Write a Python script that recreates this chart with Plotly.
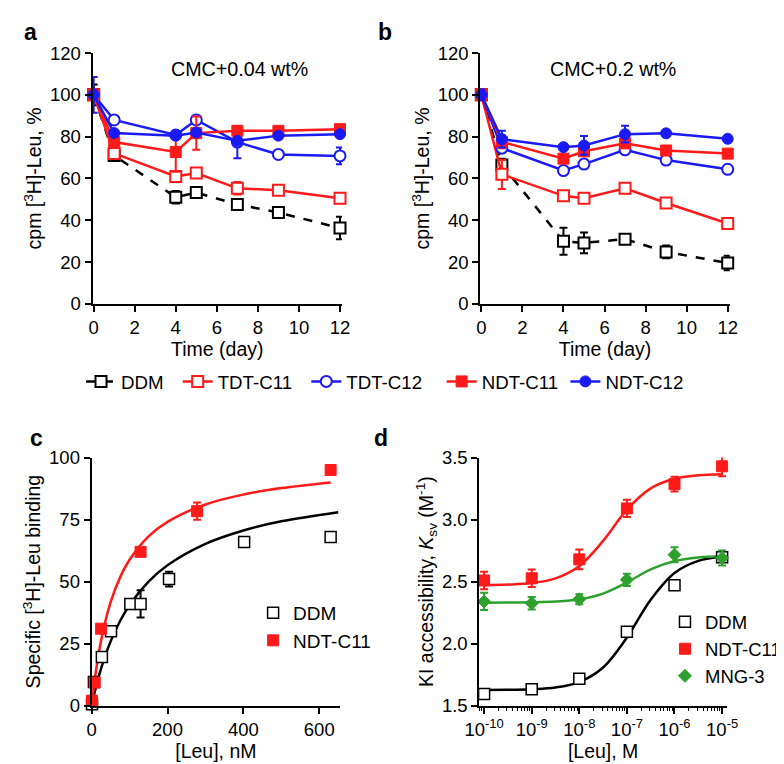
import plotly.graph_objects as go

# ---------------- data ----------------
days = [0, 1, 4, 5, 7, 9, 12]

# Panel a: CMC + 0.04 wt%
a_ddm = [100, 71, 51, 53.3, 47.6, 43.7, 36.3]
a_ddm_err = [5, 2, 3, 1.5, 1.5, 2.5, 5.4]
a_tdt11 = [100, 72, 61, 62.6, 55.3, 54.4, 50.5]
a_tdt11_err = [2, 2, 2, 1.5, 3, 1.5, 1.5]
a_tdt12 = [100, 88, 80.8, 88, 77.4, 71.5, 70.8]
a_tdt12_err = [8.5, 1.5, 1.5, 1.5, 7.7, 1, 4]
a_ndt11 = [100, 77.4, 72.7, 81.7, 82.8, 82.8, 83.6]
a_ndt11_err = [2, 2, 9.5, 8, 2, 1.5, 1.5]
a_ndt12 = [100, 81.7, 80.5, 82, 78, 80.5, 81.2]
a_ndt12_err = [2, 1, 1, 1, 1, 1, 1]

# Panel b: CMC + 0.2 wt%
b_ddm = [100, 66.5, 30, 29.2, 31, 24.9, 19.6]
b_ddm_err = [2, 3, 6.5, 5, 1.5, 3, 3.5]
b_tdt11 = [100, 62, 51.7, 50.6, 55.3, 48.3, 38.5]
b_tdt11_err = [2, 7, 1.5, 1.5, 1.5, 1.5, 1.5]
b_tdt12 = [100, 74.5, 63.8, 66.9, 73.7, 68.8, 64.4]
b_tdt12_err = [2, 1.5, 1, 1, 1, 1, 1]
b_ndt11 = [100, 77.5, 69.5, 73, 76.8, 73.4, 71.9]
b_ndt11_err = [2, 3, 1.5, 1.5, 1.5, 1.5, 1.5]
b_ndt12 = [100, 78.8, 75, 75.8, 81.2, 81.6, 79]
b_ndt12_err = [2.5, 4, 1, 4.5, 4, 1, 1]

# Panel c: saturation binding
c_ddm_x = [1, 6, 27, 51, 102, 129, 204, 402, 630]
c_ddm_y = [0.5, 9.5, 19.6, 30, 41, 41, 51, 66, 68]
c_ddm_err = [0, 0, 0, 0, 0, 5.5, 3, 0, 0]
c_ndt_x = [1, 8, 25, 129, 278, 630]
c_ndt_y = [2, 9.3, 31, 62, 78.4, 95]
c_ndt_err = [0, 0, 0, 0, 3.5, 0]
# fitted curves
c_fit_ddm_x = [2, 10, 25, 50, 75, 100, 150, 200, 300, 400, 500, 650]
c_fit_ddm_y = [1.4, 6.6, 15, 25.9, 34.1, 40.6, 50, 56.6, 65.2, 70.6, 74.3, 78]
c_fit_ndt_x = [2, 10, 25, 50, 75, 100, 150, 200, 300, 400, 500, 630]
c_fit_ndt_y = [2.8, 12.5, 26.3, 41.7, 51.7, 58.8, 68.2, 74.1, 81.1, 85.1, 87.7, 90]

# Panel d: KI accessibility
d_x = [1e-10, 1e-9, 1e-8, 1e-7, 1e-6, 1e-5]
d_ddm = [1.594, 1.631, 1.717, 2.096, 2.47, 2.697]
d_ddm_err = [0, 0, 0, 0, 0, 0.03]
d_ndt = [2.509, 2.527, 2.679, 3.09, 3.286, 3.43]
d_ndt_err = [0.07, 0.07, 0.08, 0.07, 0.06, 0.08]
d_mng = [2.34, 2.325, 2.357, 2.514, 2.717, 2.69]
d_mng_err = [0.07, 0.05, 0.04, 0.05, 0.06, 0.06]
d_fit_x = [1e-10, 10**-9.5, 1e-9, 10**-8.5, 1e-8, 10**-7.5, 1e-7, 10**-6.5, 1e-6, 10**-5.5, 1e-5]
d_fit_ddm = [1.626, 1.627, 1.632, 1.646, 1.690, 1.807, 2.049, 2.354, 2.570, 2.667, 2.702]
d_fit_ndt = [2.472, 2.476, 2.488, 2.526, 2.626, 2.828, 3.080, 3.252, 3.329, 3.357, 3.366]
d_fit_mng = [2.330, 2.331, 2.333, 2.339, 2.357, 2.403, 2.493, 2.598, 2.666, 2.695, 2.705]

d_tickvals = [1e-10, 1e-9, 1e-8, 1e-7, 1e-6, 1e-5]
d_ticktext = ["10<sup>-10</sup>", "10<sup>-9</sup>", "10<sup>-8</sup>",
              "10<sup>-7</sup>", "10<sup>-6</sup>", "10<sup>-5</sup>"]

# ---------------- style ----------------
RED = "#FF1A1A"
BLUE = "#1A1AF5"
GREEN = "#2EA02E"
BLACK = "#000000"
FONT = "Liberation Sans, Arial, sans-serif"

W, H = 784, 764


def fx(p):
    return p / W


def fy(p):
    return 1 - p / H


fig = go.Figure()


def err(arr, color):
    return dict(type="data", array=arr, visible=True, color=color, thickness=2, width=4)


def series(x, y, e, name, color, symbol, fill, xa, ya, dash="solid", legend=None):
    fig.add_trace(go.Scatter(
        x=x, y=y, name=name, mode="lines+markers",
        line=dict(color=color, width=2.5, dash=dash),
        marker=dict(symbol=symbol, size=11, color=fill,
                    line=dict(color=color, width=2 if fill == "white" else 1)),
        error_y=err(e, color), xaxis=xa, yaxis=ya, cliponaxis=False,
        showlegend=legend is not None, legend=legend or "legend"))


for xa, ya, d11, e11, d12, e12, n11, ne11, n12, ne12, dd, de, sl in [
    ("x", "y", a_tdt11, a_tdt11_err, a_tdt12, a_tdt12_err, a_ndt11, a_ndt11_err, a_ndt12, a_ndt12_err, a_ddm, a_ddm_err, True),
    ("x2", "y2", b_tdt11, b_tdt11_err, b_tdt12, b_tdt12_err, b_ndt11, b_ndt11_err, b_ndt12, b_ndt12_err, b_ddm, b_ddm_err, False),
]:
    series(days, dd, de, "DDM", BLACK, "square", "white", xa, ya, dash="dash", legend="legend" if sl else None)
    series(days, d11, e11, "TDT-C11", RED, "square", "white", xa, ya, legend="legend4" if sl else None)
    series(days, d12, e12, "TDT-C12", BLUE, "circle", "white", xa, ya, legend="legend5" if sl else None)
    series(days, n11, ne11, "NDT-C11", RED, "square", RED, xa, ya, legend="legend6" if sl else None)
    series(days, n12, ne12, "NDT-C12", BLUE, "circle", BLUE, xa, ya, legend="legend7" if sl else None)

# Panel c
fig.add_trace(go.Scatter(x=c_fit_ddm_x, y=c_fit_ddm_y, mode="lines", line=dict(color=BLACK, width=2.5, shape="spline"),
                         xaxis="x3", yaxis="y3", showlegend=False, hoverinfo="skip"))
fig.add_trace(go.Scatter(x=c_fit_ndt_x, y=c_fit_ndt_y, mode="lines", line=dict(color=RED, width=2.5, shape="spline"),
                         xaxis="x3", yaxis="y3", showlegend=False, hoverinfo="skip"))
fig.add_trace(go.Scatter(x=c_ddm_x, y=c_ddm_y, name="DDM", mode="markers",
                         marker=dict(symbol="square", size=11, color="white", line=dict(color=BLACK, width=1.5)),
                         error_y=err(c_ddm_err, BLACK), xaxis="x3", yaxis="y3", cliponaxis=False, legend="legend2"))
fig.add_trace(go.Scatter(x=c_ndt_x, y=c_ndt_y, name="NDT-C11", mode="markers",
                         marker=dict(symbol="square", size=11, color=RED, line=dict(color=RED, width=1)),
                         error_y=err(c_ndt_err, RED), xaxis="x3", yaxis="y3", cliponaxis=False, legend="legend2"))

# Panel d
for yy, col in [(d_fit_ddm, BLACK), (d_fit_ndt, RED), (d_fit_mng, GREEN)]:
    fig.add_trace(go.Scatter(x=d_fit_x, y=yy, mode="lines", line=dict(color=col, width=2.5, shape="spline"),
                             xaxis="x4", yaxis="y4", showlegend=False, hoverinfo="skip"))
fig.add_trace(go.Scatter(x=d_x, y=d_ddm, name="DDM", mode="markers",
                         marker=dict(symbol="square", size=11, color="white", line=dict(color=BLACK, width=1.5)),
                         error_y=err(d_ddm_err, BLACK), xaxis="x4", yaxis="y4", cliponaxis=False, legend="legend3"))
fig.add_trace(go.Scatter(x=d_x, y=d_ndt, name="NDT-C11", mode="markers",
                         marker=dict(symbol="square", size=11, color=RED, line=dict(color=RED, width=1)),
                         error_y=err(d_ndt_err, RED), xaxis="x4", yaxis="y4", cliponaxis=False, legend="legend3"))
fig.add_trace(go.Scatter(x=d_x, y=d_mng, name="MNG-3", mode="markers",
                         marker=dict(symbol="diamond", size=10, color=GREEN, line=dict(color=GREEN, width=1)),
                         error_y=err(d_mng_err, GREEN), xaxis="x4", yaxis="y4", cliponaxis=False, legend="legend3"))

tickfont = dict(family=FONT, size=18.5, color="black")
titlefont = dict(family=FONT, size=19.5, color="black")
axis_common = dict(showline=True, linecolor="black", linewidth=2, ticks="outside", ticklen=6, tickwidth=2,
                   tickcolor="black", showgrid=False, zeroline=False, tickfont=tickfont, mirror=False)


def top_legend(cx):
    return dict(orientation="h", x=fx(cx - 20), y=fy(373), xanchor="left", yanchor="middle",
                font=dict(family=FONT, size=18.7, color="black"), itemwidth=30, bgcolor="rgba(0,0,0,0)",
                borderwidth=0)


fig.update_layout(
    width=W, height=H, margin=dict(l=0, r=0, t=0, b=0),
    plot_bgcolor="white", paper_bgcolor="white",
    font=dict(family=FONT, color="black"),
    xaxis=dict(domain=[fx(72), fx(330)], range=[-0.05, 12.1], dtick=2, anchor="y",
               title=dict(text="Time (day)", font=titlefont, standoff=2), **axis_common),
    yaxis=dict(domain=[fy(293), fy(35)], range=[0, 120], dtick=20, anchor="x",
               title=dict(text="cpm [<sup>3</sup>H]-Leu, %", font=titlefont, standoff=3), **axis_common),
    xaxis2=dict(domain=[fx(473), fx(731)], range=[-0.05, 12.1], dtick=2, anchor="y2",
                title=dict(text="Time (day)", font=titlefont, standoff=2), **axis_common),
    yaxis2=dict(domain=[fy(293), fy(35)], range=[0, 120], dtick=20, anchor="x2",
                title=dict(text="cpm [<sup>3</sup>H]-Leu, %", font=titlefont, standoff=3), **axis_common),
    xaxis3=dict(domain=[fx(71), fx(328)], range=[0, 655], tickvals=[0, 200, 400, 600], anchor="y3",
                title=dict(text="[Leu], nM", font=titlefont, standoff=4), **axis_common),
    yaxis3=dict(domain=[fy(706), fy(451)], range=[0, 100], tickvals=[0, 25, 50, 75, 100], anchor="x3",
                title=dict(text="Specific [<sup>3</sup>H]-Leu binding", font=titlefont, standoff=3), **axis_common),
    xaxis4=dict(domain=[fx(472), fx(728)], type="log", range=[-10.1, -4.9], tickvals=d_tickvals, ticktext=d_ticktext,
                anchor="y4", minor=dict(ticks="outside", ticklen=3, tickwidth=1, tickcolor="black", showgrid=False,
                                        dtick="D1"),
                title=dict(text="[Leu], M", font=titlefont, standoff=4), **axis_common),
    yaxis4=dict(domain=[fy(706), fy(451)], range=[1.5, 3.5], dtick=0.5, tickformat=".1f", anchor="x4",
                title=dict(text="KI accessibility, <i>K</i><sub>sv</sub> (M<sup>-1</sup>)", font=titlefont, standoff=3),
                **axis_common),
    legend=top_legend(80),
    legend4=top_legend(180),
    legend5=top_legend(313),
    legend6=top_legend(453),
    legend7=top_legend(581),
    legend2=dict(x=fx(238), y=fy(625), xanchor="left", yanchor="middle", tracegroupgap=0,
                 font=dict(family=FONT, size=19, color="black"), itemwidth=30, bgcolor="rgba(0,0,0,0)"),
    legend3=dict(x=fx(664), y=fy(648), xanchor="left", yanchor="middle", tracegroupgap=0,
                 font=dict(family=FONT, size=18.5, color="black"), itemwidth=30, bgcolor="rgba(0,0,0,0)"),
)

annots = [
    dict(text="<b>a</b>", x=fx(-1), y=fy(13)),
    dict(text="<b>b</b>", x=fx(365), y=fy(13)),
    dict(text="<b>c</b>", x=fx(5), y=fy(431)),
    dict(text="<b>d</b>", x=fx(361), y=fy(431)),
]
for a in annots:
    fig.add_annotation(xref="paper", yref="paper", xanchor="left", yanchor="middle", showarrow=False,
                       font=dict(family=FONT, size=23, color="black"), **a)

fig.add_annotation(xref="paper", yref="paper", x=fx(224), y=fy(51), xanchor="center", yanchor="middle",
                   text="CMC+0.04 wt%", showarrow=False, font=dict(family=FONT, size=19.7, color="black"))
fig.add_annotation(xref="paper", yref="paper", x=fx(610), y=fy(51), xanchor="center", yanchor="middle",
                   text="CMC+0.2 wt%", showarrow=False, font=dict(family=FONT, size=19.7, color="black"))

fig.write_html("out.html")
